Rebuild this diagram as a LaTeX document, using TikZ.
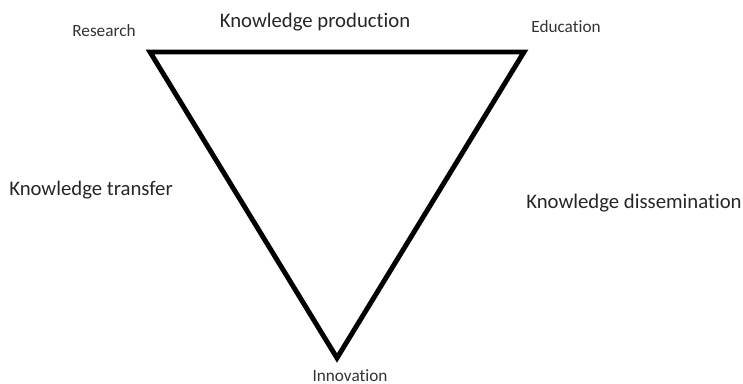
\documentclass[tikz,border=0pt]{standalone}
\usepackage{fontspec}
\setmainfont[Ligatures=NoCommon]{Carlito}
\usepackage{tikz}

\begin{document}
\begin{tikzpicture}[corner/.style={font=\fontsize{9.8}{11}\selectfont, text=black!80}, side/.style={font=\fontsize{11.8}{14}\selectfont, text=black!85}]
    \useasboundingbox (0, 0) rectangle (14.86, 7.68);
    \coordinate (res) at (3.0, 6.64);
    \coordinate (edu) at (10.48, 6.64);
    \coordinate (inn) at (6.74, 0.52);

    \draw[line width=2.8pt, line join=miter] (res) -- (edu) -- (inn) -- cycle;

    \node[corner] (research) at (2.08, 7.06) {Research};
    \node[corner] (education) at (11.32, 7.14) {Education};
    \node[corner] (innovation) at (7.0, 0.16) {Innovation};

    \node[side] (production) at (6.30, 7.24) {Knowledge production};
    \node[side] (transfer) at (1.82, 3.88) {Knowledge transfer};
    \node[side] (dissemination) at (12.68, 3.62) {Knowledge dissemination};
\end{tikzpicture}
\end{document}
